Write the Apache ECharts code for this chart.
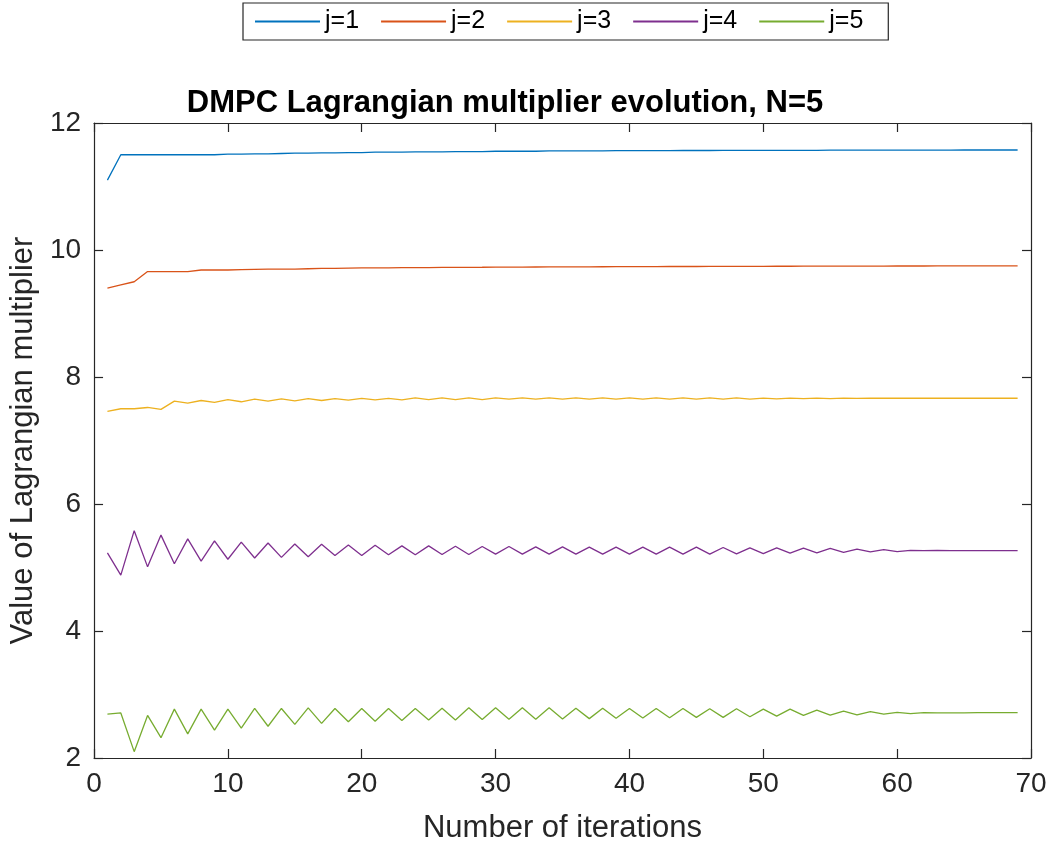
<!DOCTYPE html>
<html>
<head>
<meta charset="utf-8">
<script src="https://cdn.jsdelivr.net/npm/echarts@6/dist/echarts.min.js"></script>
<style>
html,body{margin:0;padding:0;background:#fff;}
#chart{width:1054px;height:850px;}
</style>
</head>
<body>
<div id="chart"></div>
<script>
const iterations = [1,2,3,4,5,6,7,8,9,10,11,12,13,14,15,16,17,18,19,20,21,22,23,24,25,26,27,28,29,30,31,32,33,34,35,36,37,38,39,40,41,42,43,44,45,46,47,48,49,50,51,52,53,54,55,56,57,58,59,60,61,62,63,64,65,66,67,68,69];

const seriesNames = ['j=1','j=2','j=3','j=4','j=5'];

const j1 = [11.10,11.50,11.50,11.50,11.50,11.50,11.50,11.50,11.50,11.51,11.51,11.515,11.515,11.52,11.525,11.525,11.53,11.53,11.535,11.535,11.54,11.54,11.54,11.545,11.545,11.545,11.55,11.55,11.55,11.555,11.555,11.555,11.555,11.56,11.56,11.56,11.56,11.56,11.565,11.565,11.565,11.565,11.565,11.567,11.567,11.567,11.568,11.568,11.568,11.57,11.57,11.57,11.57,11.57,11.572,11.572,11.572,11.572,11.573,11.573,11.573,11.574,11.574,11.574,11.575,11.575,11.575,11.575,11.575];

const j2 = [9.40,9.45,9.50,9.66,9.66,9.66,9.66,9.685,9.685,9.685,9.69,9.695,9.70,9.70,9.70,9.705,9.71,9.71,9.715,9.72,9.72,9.72,9.722,9.722,9.724,9.725,9.726,9.727,9.728,9.73,9.73,9.731,9.732,9.733,9.734,9.735,9.735,9.736,9.737,9.738,9.738,9.739,9.74,9.74,9.74,9.741,9.742,9.742,9.743,9.743,9.744,9.744,9.745,9.745,9.746,9.746,9.747,9.747,9.747,9.748,9.748,9.748,9.749,9.749,9.749,9.75,9.75,9.75,9.75];

const j3 = [7.46,7.50,7.50,7.52,7.49,7.62,7.59,7.63,7.60,7.645,7.61,7.65,7.62,7.655,7.625,7.66,7.63,7.66,7.635,7.665,7.64,7.665,7.64,7.67,7.645,7.67,7.645,7.67,7.645,7.67,7.65,7.67,7.65,7.67,7.65,7.67,7.65,7.67,7.65,7.67,7.65,7.67,7.65,7.67,7.65,7.67,7.652,7.67,7.653,7.668,7.655,7.668,7.658,7.667,7.66,7.666,7.663,7.665,7.665,7.665,7.665,7.665,7.665,7.665,7.665,7.665,7.665,7.665,7.665];

const j4 = [5.23,4.88,5.58,5.01,5.51,5.06,5.45,5.10,5.42,5.13,5.40,5.15,5.385,5.16,5.37,5.17,5.365,5.19,5.355,5.19,5.35,5.20,5.34,5.20,5.34,5.205,5.335,5.205,5.33,5.21,5.33,5.21,5.325,5.21,5.325,5.21,5.32,5.21,5.32,5.21,5.32,5.21,5.32,5.21,5.32,5.21,5.315,5.215,5.31,5.22,5.31,5.225,5.305,5.23,5.30,5.24,5.29,5.245,5.28,5.25,5.27,5.265,5.268,5.266,5.267,5.266,5.267,5.267,5.267];

const j5 = [2.69,2.71,2.10,2.67,2.32,2.77,2.38,2.77,2.44,2.77,2.47,2.78,2.50,2.78,2.53,2.79,2.545,2.78,2.57,2.78,2.58,2.78,2.59,2.78,2.60,2.785,2.60,2.79,2.605,2.79,2.61,2.79,2.61,2.79,2.615,2.785,2.62,2.785,2.625,2.78,2.63,2.78,2.635,2.78,2.64,2.775,2.64,2.775,2.65,2.77,2.66,2.77,2.67,2.755,2.675,2.74,2.68,2.73,2.69,2.72,2.70,2.715,2.71,2.712,2.712,2.713,2.713,2.714,2.714];

const seriesColors = ['#0072BD','#D95319','#EDB120','#7E2F8E','#77AC30'];
const allValues = [j1,j2,j3,j4,j5];

const xTicks = [0,10,20,30,40,50,60,70];
const yTicks = [2,4,6,8,10,12];

const FONT = '"Liberation Sans", Arial, Helvetica, sans-serif';
const axisColor = '#262626';

const chart = echarts.init(document.getElementById('chart'), null, {renderer:'canvas'});

const series = seriesNames.map((name, k) => ({
  name: name,
  type: 'line',
  xAxisIndex: 0,
  yAxisIndex: 0,
  data: iterations.map((x, i) => [x, allValues[k][i]]),
  showSymbol: false,
  symbol: 'none',
  lineStyle: {width: 1.3, color: seriesColors[k]},
  itemStyle: {color: seriesColors[k]},
  animation: false
}));

const commonX = {
  type: 'value', min: xTicks[0], max: xTicks[xTicks.length-1], interval: 10,
  splitLine: {show: false},
  axisLine: {show: true, onZero: false, lineStyle: {color: axisColor, width: 1.2}},
  axisTick: {show: true, inside: true, length: 9, lineStyle: {color: axisColor, width: 1.2}}
};
const commonY = {
  type: 'value', min: yTicks[0], max: yTicks[yTicks.length-1], interval: 2,
  splitLine: {show: false},
  axisLine: {show: true, onZero: false, lineStyle: {color: axisColor, width: 1.2}},
  axisTick: {show: true, inside: true, length: 9, lineStyle: {color: axisColor, width: 1.2}}
};

chart.setOption({
  backgroundColor: '#ffffff',
  animation: false,
  title: {
    text: 'DMPC Lagrangian multiplier evolution, N=5',
    left: 500, top: 83, textAlign: 'center',
    textStyle: {fontFamily: FONT, fontWeight: 'bold', fontSize: 31, color: '#000'}
  },
  legend: {
    data: seriesNames,
    left: 243, top: 3,
    padding: [6, 25, 6, 12],
    itemWidth: 65, itemHeight: 2, itemGap: 22,
    borderColor: '#262626', borderWidth: 1.2,
    backgroundColor: '#fff',
    icon: 'rect',
    textStyle: {fontFamily: FONT, fontSize: 25, color: '#000', padding: [0,0,0,0]}
  },
  grid: {left: 93, right: 23, top: 123, bottom: 92, containLabel: false},
  xAxis: [
    Object.assign({}, commonX, {
      position: 'bottom',
      name: 'Number of iterations', nameLocation: 'middle', nameGap: 55,
      nameTextStyle: {fontFamily: FONT, fontSize: 31, color: '#262626'},
      axisLabel: {show: true, margin: 12, fontFamily: FONT, fontSize: 28, color: '#262626'}
    }),
    Object.assign({}, commonX, {position: 'top', axisLabel: {show: false}})
  ],
  yAxis: [
    Object.assign({}, commonY, {
      position: 'left',
      name: 'Value of Lagrangian multiplier', nameLocation: 'middle', nameGap: 52,
      nameRotate: 90,
      nameTextStyle: {fontFamily: FONT, fontSize: 31, color: '#262626'},
      axisLabel: {show: true, margin: 13, fontFamily: FONT, fontSize: 28, color: '#262626'}
    }),
    Object.assign({}, commonY, {position: 'right', axisLabel: {show: false}})
  ],
  series: series
});
</script>
</body>
</html>
